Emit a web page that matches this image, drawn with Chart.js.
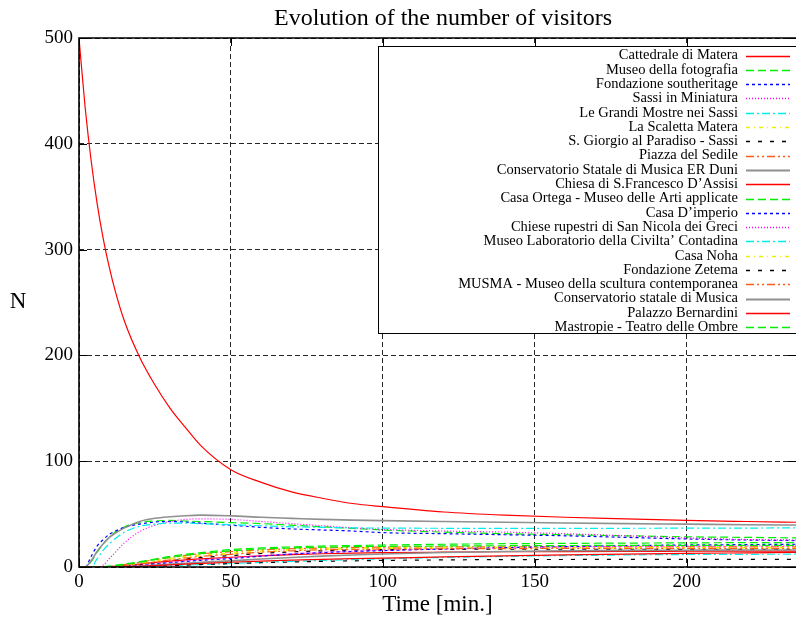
<!DOCTYPE html>
<html>
<head>
<meta charset="utf-8">
<script src="https://cdn.jsdelivr.net/npm/chart.js@4"></script>
<style>
  html, body { margin: 0; padding: 0; background: #fff; overflow: hidden; }
  #wrap { width: 796px; height: 621px; }
</style>
</head>
<body>
<div id="wrap"><canvas id="c" width="796" height="621"></canvas></div>
<script>
// Sampling times (minutes) shared by every series
const TIMES = [0, 2, 4, 6, 8, 10, 12, 15, 20, 25, 30, 35, 40, 50, 60, 70, 80, 90, 100, 120, 140, 160, 180, 200, 220, 236];

const X_TICKS = [0, 50, 100, 150, 200];
const Y_TICKS = [0, 100, 200, 300, 400, 500];

// Number of visitors at each site over time
const cattedrale     = [500, 435, 384, 343, 310, 283, 260, 232, 198, 172, 150, 132, 115, 92, 80, 71, 65, 60, 57, 52, 49, 47, 45.5, 44, 43, 42.3];
const fotografia     = [0, 0, 5, 14, 22, 28, 33, 38, 42, 43.5, 44, 43.5, 43, 42, 41, 39.5, 38, 36.5, 35, 33, 31.5, 30.5, 29.5, 28.5, 28, 27.5];
const southeritage   = [0, 0, 10, 20, 26, 31, 34, 37.5, 40.5, 42.5, 43, 42.5, 41.5, 39.5, 37.5, 36, 35, 34, 32.5, 31.5, 30.5, 29.5, 28, 26.5, 25.5, 25];
const miniatura      = [0, 0, 0, 0, 2, 8, 14, 23, 33.5, 39.5, 43, 45, 45.5, 45, 43, 41, 39, 37, 35.5, 34, 33, 31.5, 29.5, 27.5, 26, 25.5];
const grandiMostre   = [0, 0, 0, 8, 16, 22, 27, 33, 38.5, 40.5, 41.5, 41.5, 41, 40, 39, 38, 37.5, 37, 36.8, 36.6, 36.6, 36.6, 36.6, 36.7, 36.8, 37];
const scaletta       = [0, 0, 0, 0, 0, 0.3, 0.8, 1.8, 3.8, 6, 8, 10, 11.3, 13.3, 15.3, 16.7, 17.6, 18.1, 18.4, 18.6, 18.6, 18.6, 18.6, 18.5, 18.5, 18.5];
const sGiorgio       = [0, 0, 0, 0, 0, 0.1, 0.4, 1, 2.3, 4, 5.8, 7.5, 8.8, 10.8, 12.8, 14.3, 15.3, 16, 16.4, 16.7, 16.8, 16.8, 16.8, 16.7, 16.7, 16.7];
const sedile         = [0, 0, 0, 0, 0.2, 0.6, 1.2, 2.3, 4.5, 7, 9, 11, 12.5, 14.5, 16.2, 17.3, 18, 18.5, 18.8, 19, 19, 19, 19, 19, 19, 19];
const erDuni         = [0, 0, 6, 15, 22, 28, 32, 37, 43, 46, 47.5, 48.5, 49, 48.3, 47, 46, 45, 44.3, 43.8, 43, 42.3, 41.6, 41, 40.5, 40, 39.7];
const sFrancesco     = [0, 0, 0, 0, 0, 0.2, 0.6, 1.3, 2.8, 4.3, 5.6, 6.8, 7.7, 9.2, 10.6, 11.7, 12.5, 13.1, 13.5, 14, 14.4, 14.6, 14.8, 14.9, 15, 15];
const casaOrtega     = [0, 0, 0, 0, 0.3, 0.8, 1.5, 2.8, 5, 7.5, 10, 12, 13.5, 16.5, 18, 19, 19.8, 20.3, 20.8, 21.5, 22, 22.3, 22.6, 22.8, 23, 23];
const casaImperio    = [0, 0, 0, 0, 0, 0, 0.2, 0.6, 1.5, 2.7, 4, 5.3, 6.3, 8, 10.3, 12.2, 13.6, 14.7, 15.5, 17, 18.3, 19.3, 20.2, 20.8, 21.2, 21.5];
const chieseRupestri = [0, 0, 0, 0, 0, 0, 0.2, 0.6, 1.6, 2.9, 4.3, 5.6, 6.7, 8.6, 10.8, 12.6, 14, 15, 15.8, 17.2, 18.2, 18.9, 19.4, 19.7, 19.9, 20];
const laboratorio    = [0, 0, 0, 0, 0, 0, 0, 0.1, 0.4, 0.8, 1.3, 1.8, 2.3, 3.3, 4.3, 5.3, 6.2, 7, 7.7, 9, 10, 10.8, 11.4, 11.8, 12, 12.1];
const casaNoha       = [0, 0, 0, 0, 0, 0.2, 0.6, 1.4, 3.2, 5.3, 7.3, 9, 10.5, 12.5, 14.3, 15.7, 16.6, 17.2, 17.6, 17.9, 18, 18, 18, 18, 18, 18];
const zetema         = [0, 0, 0, 0, 0, 0, 0, 0.1, 0.4, 0.8, 1.3, 1.8, 2.3, 3.2, 4, 4.7, 5.3, 5.8, 6.2, 6.7, 7, 7.1, 7.2, 7.3, 7.3, 7.3];
const musma          = [0, 0, 0, 0, 0, 0.2, 0.5, 1.2, 2.8, 4.8, 6.8, 8.5, 10, 12, 14, 15.3, 16.2, 16.7, 17, 17.3, 17.4, 17.5, 17.5, 17.5, 17.5, 17.5];
const conservatorio  = [0, 0, 0, 0, 0, 0, 0, 0.3, 1, 1.8, 2.7, 3.6, 4.4, 5.8, 7.5, 9, 10.3, 11.4, 12.3, 13.7, 14.7, 15.3, 15.7, 15.9, 16, 16];
const bernardini     = [0, 0, 0, 0, 0, 0, 0, 0.2, 0.7, 1.3, 2, 2.7, 3.3, 4.5, 5.6, 6.5, 7.3, 7.9, 8.4, 9.5, 10.5, 11.4, 12.2, 12.9, 13.4, 13.8];
const mastropie      = [0, 0, 0, 0, 0.2, 0.6, 1.2, 2.3, 4.5, 7, 9, 11, 12.5, 15.3, 17, 18, 18.7, 19.2, 19.5, 19.9, 20.1, 20.3, 20.4, 20.5, 20.5, 20.5];

const SERIES_NAMES = [
  'Cattedrale di Matera',
  'Museo della fotografia',
  'Fondazione southeritage',
  'Sassi in Miniatura',
  'Le Grandi Mostre nei Sassi',
  'La Scaletta Matera',
  'S. Giorgio al Paradiso - Sassi',
  'Piazza del Sedile',
  'Conservatorio Statale di Musica ER Duni',
  'Chiesa di S.Francesco D\u2019Assisi',
  'Casa Ortega - Museo delle Arti applicate',
  'Casa D\u2019imperio',
  'Chiese rupestri di San Nicola dei Greci',
  'Museo Laboratorio della Civilta\u2019 Contadina',
  'Casa Noha',
  'Fondazione Zetema',
  'MUSMA - Museo della scultura contemporanea',
  'Conservatorio statale di Musica',
  'Palazzo Bernardini',
  'Mastropie - Teatro delle Ombre'
];
const SERIES_VALUES = [
  cattedrale, fotografia, southeritage, miniatura, grandiMostre, scaletta, sGiorgio, sedile,
  erDuni, sFrancesco, casaOrtega, casaImperio, chieseRupestri, laboratorio, casaNoha, zetema,
  musma, conservatorio, bernardini, mastropie
];

// Line types, cycled over the series
const LINE_TYPES = [
  { color: '#ff0000', dash: [],                 width: 1.2 },
  { color: '#00ee00', dash: [8, 4],             width: 1.2 },
  { color: '#0000ff', dash: [3, 3],             width: 1.2 },
  { color: '#ff00ff', dash: [1, 2],             width: 1.2 },
  { color: '#00eeee', dash: [8, 3, 2, 3],       width: 1.2 },
  { color: '#eeee00', dash: [4, 4, 1, 4],       width: 1.2 },
  { color: '#000000', dash: [4, 8],             width: 1.2 },
  { color: '#ff5a1a', dash: [8, 3, 2, 3, 2, 3], width: 1.2 },
  { color: '#909090', dash: [],                 width: 1.6 }
];

const FONT = 'Liberation Serif, Times New Roman, serif';

const datasets = SERIES_VALUES.map((vals, i) => {
  const lt = LINE_TYPES[i % LINE_TYPES.length];
  return {
    label: SERIES_NAMES[i],
    data: TIMES.map((t, k) => ({ x: t, y: vals[k] })),
    borderColor: lt.color,
    borderDash: lt.dash,
    borderWidth: lt.width,
    pointRadius: 0,
    fill: false,
    cubicInterpolationMode: 'monotone',
    order: SERIES_VALUES.length - i
  };
});

// Title, axis titles, frame, inward ticks and the boxed key
const decorations = {
  id: 'decorations',
  afterDraw(chart) {
    const { ctx, chartArea: a, scales } = chart;
    ctx.save();
    ctx.fillStyle = '#000';
    ctx.textAlign = 'center';
    ctx.textBaseline = 'middle';
    ctx.font = '24px ' + FONT;
    ctx.fillText('Evolution of the number of visitors', 443, 19);
    ctx.font = '23px ' + FONT;
    ctx.fillText('Time [min.]', (a.left + a.right) / 2, 605);
    ctx.fillText('N', 18, 302);

    // inward tick marks on all sides
    ctx.strokeStyle = '#000';
    ctx.lineWidth = 1;
    ctx.setLineDash([]);
    const tl = 8;
    ctx.beginPath();
    X_TICKS.forEach(v => {
      const px = Math.round(scales.x.getPixelForValue(v)) + 0.5;
      ctx.moveTo(px, a.bottom); ctx.lineTo(px, a.bottom - tl);
      ctx.moveTo(px, a.top); ctx.lineTo(px, a.top + tl);
    });
    Y_TICKS.forEach(v => {
      const py = Math.round(scales.y.getPixelForValue(v)) + 0.5;
      ctx.moveTo(a.left, py); ctx.lineTo(a.left + tl, py);
      ctx.moveTo(a.right, py); ctx.lineTo(a.right - tl, py);
    });
    ctx.stroke();

    // frame
    ctx.lineWidth = 1.6;
    ctx.beginPath();
    ctx.moveTo(a.right, a.top);
    ctx.lineTo(a.left, a.top);
    ctx.lineTo(a.left, a.bottom);
    ctx.lineTo(a.right, a.bottom);
    ctx.stroke();

    // key
    const box = { x: 378.5, y: 46.5, w: 420, h: 287 };
    ctx.fillStyle = '#fff';
    ctx.fillRect(box.x, box.y, box.w, box.h);
    ctx.lineWidth = 1;
    ctx.strokeStyle = '#000';
    ctx.strokeRect(box.x, box.y, box.w, box.h);
    ctx.font = '14.5px ' + FONT;
    ctx.textAlign = 'right';
    ctx.textBaseline = 'middle';
    SERIES_NAMES.forEach((name, i) => {
      const lt = LINE_TYPES[i % LINE_TYPES.length];
      const y = 55.5 + i * 14.3;
      ctx.fillStyle = '#000';
      ctx.fillText(name, 738, y);
      ctx.strokeStyle = lt.color;
      ctx.lineWidth = lt.width + 0.3;
      ctx.setLineDash(lt.dash);
      ctx.beginPath();
      ctx.moveTo(746, Math.round(y) + 0.5);
      ctx.lineTo(790, Math.round(y) + 0.5);
      ctx.stroke();
    });
    ctx.restore();
  }
};

new Chart(document.getElementById('c'), {
  type: 'line',
  data: { datasets },
  options: {
    responsive: false,
    animation: false,
    devicePixelRatio: 1,
    layout: { padding: { top: 38, left: 0, right: 0, bottom: 0 } },
    plugins: {
      legend: { display: false },
      title: { display: false },
      tooltip: { enabled: false }
    },
    scales: {
      x: {
        type: 'linear',
        min: 0,
        max: 236,
        afterBuildTicks: s => { s.ticks = X_TICKS.map(v => ({ value: v })); },
        afterFit: s => { s.height = 54; },
        ticks: {
          color: '#000',
          font: { family: FONT, size: 19 },
          padding: 4,
          maxRotation: 0,
          autoSkip: false
        },
        grid: { color: 'rgba(0,0,0,0.85)', lineWidth: 1, drawTicks: false },
        border: { display: false, dash: [5, 3] }
      },
      y: {
        type: 'linear',
        min: 0,
        max: 500,
        afterBuildTicks: s => { s.ticks = Y_TICKS.map(v => ({ value: v })); },
        afterFit: s => { s.width = 79; },
        ticks: {
          color: '#000',
          font: { family: FONT, size: 19 },
          padding: 6
        },
        grid: { color: 'rgba(0,0,0,0.85)', lineWidth: 1, drawTicks: false },
        border: { display: false, dash: [5, 3] }
      }
    }
  },
  plugins: [decorations]
});
</script>
</body>
</html>
